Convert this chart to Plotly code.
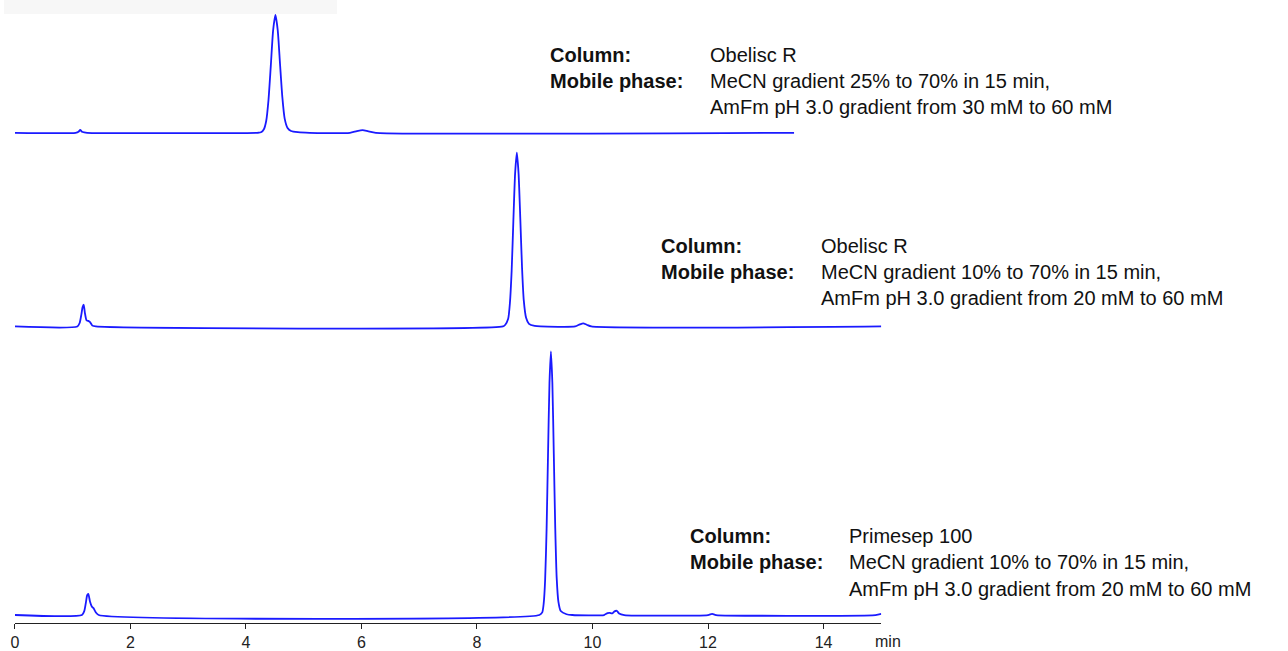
import plotly.graph_objects as go

# ---------------- data ----------------
# Chromatogram 1 (top): Obelisc R, MeCN 25-70 %
t1 = [0.0, 1.05, 1.10, 1.13, 1.16, 1.20, 1.25, 4.20, 4.26, 4.31, 4.35, 4.39, 4.43, 4.47,
      4.51, 4.55, 4.59, 4.63, 4.67, 4.72, 4.78, 4.90, 5.10, 5.80, 5.92, 6.02, 6.12, 6.25, 13.49]
v1 = [0, 0, 0.8, 2.5, 0.8, 0.3, 0, 0, 0.4, 3, 10, 28, 57, 87,
      100, 87, 58, 30, 12, 4, 1.5, 0.5, 0, 0, 1.5, 2.3, 1.2, 0, 0]

# Chromatogram 2 (middle): Obelisc R, MeCN 10-70 %
t2 = [0.0, 1.08, 1.12, 1.15, 1.17, 1.19, 1.21, 1.24, 1.27, 1.30, 1.34, 1.40,
      8.45, 8.49, 8.54, 8.57, 8.60, 8.63, 8.66, 8.69, 8.72, 8.75, 8.78, 8.81, 8.85, 8.90, 9.00, 9.10,
      9.70, 9.78, 9.84, 9.90, 9.98, 15.0]
v2 = [0, 0, 2, 7, 11, 12.6, 8, 3.5, 3.2, 2.5, 0.5, 0,
      0, 1, 4.4, 13.5, 32, 61, 88, 100, 88, 62, 34, 15, 5, 1.5, 0.3, 0,
      0, 1.2, 1.8, 1.0, 0, 0]

# Chromatogram 3 (bottom): Primesep 100, MeCN 10-70 %
t3 = [0.0, 1.16, 1.20, 1.23, 1.25, 1.27, 1.30, 1.33, 1.36, 1.40, 1.45,
      9.08, 9.13, 9.155, 9.18, 9.205, 9.23, 9.255, 9.28, 9.305, 9.33, 9.355, 9.38, 9.41, 9.45, 9.55, 9.65,
      10.20, 10.26, 10.30, 10.34, 10.38, 10.42, 10.46, 10.55,
      12.00, 12.07, 12.14, 14.90, 15.0]
v3 = [0, 0, 1.5, 5, 7.5, 8, 5, 3.2, 2.6, 1, 0,
      0, 1, 4.4, 13.5, 32.5, 61, 88, 100, 88, 61, 33, 14, 5, 1.5, 0.3, 0,
      0, 0.7, 0.8, 0.6, 1.4, 1.6, 0.6, 0,
      0, 0.4, 0, 0, 0.4]

x_ticks = [0, 2, 4, 6, 8, 10, 12, 14]
x_unit = "min"

columns = ["Obelisc R", "Obelisc R", "Primesep 100"]
mobile_1 = ["MeCN gradient 25% to 70% in 15 min,",
            "MeCN gradient 10% to 70% in 15 min,",
            "MeCN gradient 10% to 70% in 15 min,"]
mobile_2 = ["AmFm pH 3.0 gradient from 30 mM to 60 mM",
            "AmFm pH 3.0 gradient from 20 mM to 60 mM",
            "AmFm pH 3.0 gradient from 20 mM to 60 mM"]

# ---------------- layout helpers ----------------
W, H = 1288, 651
B = 23                      # bottom margin
PH = H - B                  # plot height in px
YR = [-3, 103]


def px2f(py):
    return (PH - py) / PH


def domain(base_px, peak_px):
    s = (base_px - peak_px) / 100.0
    return [max(0.0, px2f(base_px - YR[0] * s)), min(1.0, px2f(peak_px - (YR[1] - 100) * s))]


BLUE = "#1a1aff"
LINE = dict(color=BLUE, width=1.8, shape="spline", smoothing=0.6)
fig = go.Figure()
fig.add_trace(go.Scatter(x=t3, y=v3, mode="lines", line=LINE, xaxis="x", yaxis="y", showlegend=False))
fig.add_trace(go.Scatter(x=t2, y=v2, mode="lines", line=LINE, xaxis="x", yaxis="y2", showlegend=False))
fig.add_trace(go.Scatter(x=t1, y=v1, mode="lines", line=LINE, xaxis="x", yaxis="y3", showlegend=False))

yax = dict(range=YR, visible=False, showgrid=False, zeroline=False, fixedrange=True)
fig.update_layout(
    width=W, height=H,
    margin=dict(l=0, r=0, t=0, b=B),
    paper_bgcolor="white", plot_bgcolor="white",
    xaxis=dict(domain=[11 / W, 880 / W], range=[0, 15], tickvals=x_ticks,
               showline=True, linecolor="#222", linewidth=1, ticks="outside", ticklen=5,
               tickcolor="#222", showgrid=False, zeroline=False,
               tickfont=dict(family="Liberation Sans, Arial", size=16, color="#222")),
    yaxis=dict(domain=domain(616, 352), anchor="x", **yax),
    yaxis2=dict(domain=domain(327, 153), anchor="x", **yax),
    yaxis3=dict(domain=domain(133, 15), anchor="x", **yax),
)

FONT = "Liberation Sans, Arial"
blocks = [  # (label x px, value x px, row y px)
    (546, 706, [55, 81, 107]),
    (657, 818, [246, 272, 298]),
    (686, 846, [537, 563, 590]),
]
ann = []
for i, (lx, vx, rows) in enumerate(blocks):
    items = [
        (lx, rows[0], "<b>Column:</b>"),
        (vx, rows[0], columns[i]),
        (lx, rows[1], "<b>Mobile phase:</b>"),
        (vx, rows[1], mobile_1[i]),
        (vx, rows[2], mobile_2[i]),
    ]
    for x, y, txt in items:
        ann.append(dict(x=x / W, y=px2f(y), xref="paper", yref="paper", text=txt, showarrow=False,
                        xanchor="left", yanchor="middle",
                        font=dict(family=FONT, size=20, color="#111")))
ann.append(dict(x=872 / W, y=px2f(643), xref="paper", yref="paper", text=x_unit, showarrow=False,
                xanchor="left", yanchor="middle", font=dict(family=FONT, size=16, color="#222")))
fig.update_layout(annotations=ann)

# faint background box at the top left (cropped header in the original)
fig.add_shape(type="rect", xref="paper", yref="paper", x0=0, x1=334 / W, y0=px2f(14), y1=px2f(0),
              fillcolor="#f7f7f7", line=dict(width=0), layer="below")

fig.write_html("out.html", config={"displayModeBar": False},
               post_script="document.body.style.margin='0';document.body.style.overflow='hidden';")
